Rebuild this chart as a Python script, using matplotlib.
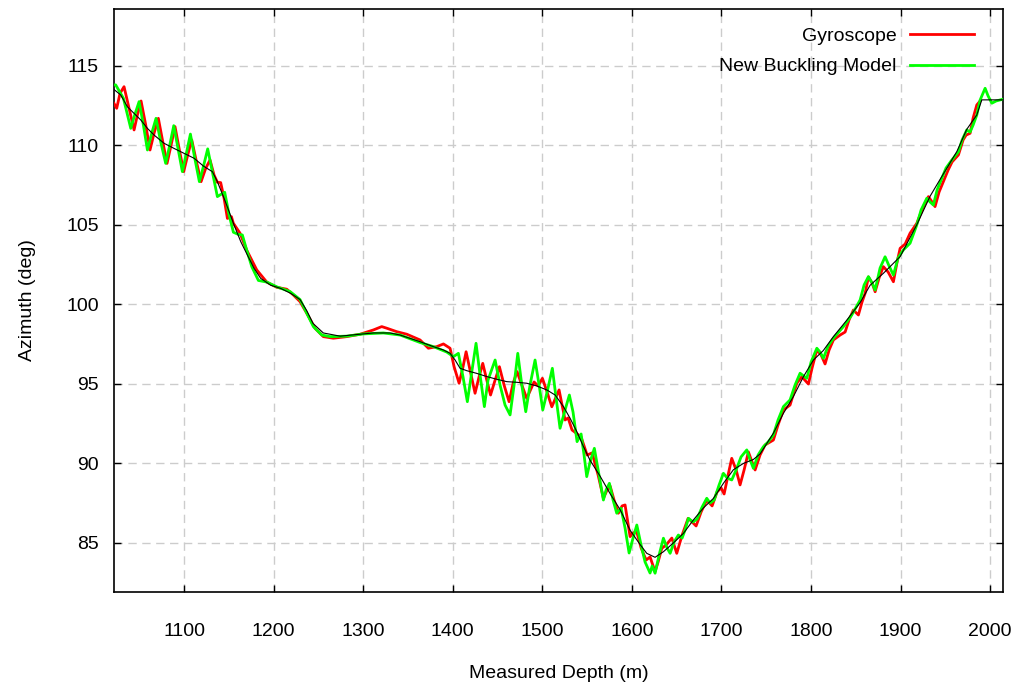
import matplotlib
matplotlib.use("Agg")
import matplotlib.pyplot as plt

plt.rcParams['font.family'] = ['Liberation Sans', 'DejaVu Sans']

# ---- data (depth in m, azimuth in deg) ----
gyro_depth = [
    1021.8, 1024.8, 1028.5, 1033.0, 1038.6, 1044.2, 1047.9, 1052.0, 1057.2, 1062.0,
    1066.5, 1071.3, 1076.2, 1081.0, 1085.5, 1089.9, 1094.8, 1099.6, 1104.1, 1108.6,
    1113.8, 1119.0, 1124.2, 1129.0, 1133.5, 1137.2, 1140.9, 1144.7, 1148.4, 1152.9,
    1155.0, 1162.5, 1170.0, 1181.2, 1192.3, 1203.5, 1214.7, 1222.0, 1229.5, 1237.0,
    1246.3, 1255.5, 1266.7, 1281.7, 1296.5, 1311.4, 1320.7, 1326.3, 1337.5, 1348.7,
    1363.5, 1372.8, 1382.1, 1389.6, 1397.0, 1401.5, 1407.1, 1411.5, 1414.9, 1419.3,
    1424.9, 1429.4, 1433.5, 1438.0, 1442.2, 1447.3, 1452.1, 1457.3, 1462.9, 1467.4,
    1471.8, 1477.1, 1482.6, 1490.8, 1495.3, 1500.1, 1505.3, 1510.6, 1514.8, 1518.7,
    1522.1, 1525.4, 1528.8, 1533.2, 1537.7, 1543.3, 1550.0, 1555.6, 1562.3, 1568.2,
    1572.3, 1575.7, 1580.1, 1584.9, 1589.1, 1592.4, 1598.0, 1601.3, 1605.5, 1610.3,
    1615.9, 1620.3, 1625.9, 1629.3, 1633.4, 1638.2, 1644.6, 1650.1, 1656.1, 1662.8,
    1667.2, 1671.7, 1677.3, 1683.6, 1689.6, 1695.1, 1699.6, 1703.0, 1707.4, 1711.5,
    1716.4, 1720.8, 1725.3, 1730.1, 1734.2, 1737.6, 1743.1, 1748.7, 1758.0, 1763.2,
    1769.2, 1776.6, 1784.1, 1789.7, 1797.1, 1801.2, 1806.5, 1811.3, 1815.7, 1820.2,
    1825.0, 1832.5, 1838.1, 1842.5, 1847.3, 1852.9, 1857.0, 1860.4, 1864.1, 1868.2,
    1871.6, 1876.0, 1880.8, 1886.1, 1892.0, 1896.1, 1899.5, 1905.1, 1910.6, 1918.1,
    1924.0, 1931.1, 1935.2, 1938.5, 1943.0, 1947.8, 1953.1, 1957.5, 1964.6, 1969.8,
    1973.2, 1977.6, 1981.0, 1985.1, 1988.8,
]
gyro_az = [
    112.63, 112.32, 113.26, 113.68, 112.32, 110.96, 111.90, 112.78, 111.27, 109.70,
    110.75, 111.69, 110.23, 108.86, 110.00, 111.17, 109.70, 108.34, 109.39, 110.33,
    108.97, 107.71, 108.55, 109.07, 108.13, 107.67, 107.65, 106.66, 105.40, 105.51,
    105.10, 104.47, 103.40, 102.16, 101.40, 101.07, 100.95, 100.59, 100.17, 99.44,
    98.49, 97.97, 97.87, 97.97, 98.12, 98.39, 98.60, 98.50, 98.28, 98.12,
    97.76, 97.24, 97.34, 97.51, 97.24, 96.08, 95.04, 96.08, 97.02, 95.87,
    94.41, 95.45, 96.29, 95.24, 94.30, 95.24, 96.08, 94.93, 93.88, 95.04,
    95.77, 94.93, 94.09, 95.12, 94.87, 95.35, 94.49, 93.56, 94.11, 94.62,
    93.67, 92.73, 92.86, 92.10, 91.91, 91.66, 90.53, 90.66, 89.27, 87.81,
    88.33, 88.58, 87.70, 86.87, 87.33, 87.39, 85.40, 85.63, 85.69, 84.69,
    83.93, 84.12, 83.20, 83.81, 84.67, 84.87, 85.31, 84.35, 85.50, 86.55,
    86.32, 86.07, 86.95, 87.70, 87.33, 88.21, 88.46, 88.08, 89.27, 90.32,
    89.59, 88.65, 89.59, 90.72, 90.09, 89.59, 90.53, 91.16, 91.47, 92.42,
    93.36, 93.67, 95.04, 95.45, 94.99, 96.00, 97.13, 96.82, 96.25, 97.13,
    97.76, 98.07, 98.26, 99.02, 99.64, 99.33, 100.15, 100.69, 101.72, 101.34,
    100.79, 101.66, 102.37, 102.03, 101.42, 102.66, 103.52, 103.79, 104.47, 105.09,
    105.93, 106.77, 106.43, 106.14, 107.06, 107.71, 108.44, 108.95, 109.39, 110.33,
    110.64, 110.75, 111.71, 112.53, 112.78,
]

model_depth = [
    1021.8, 1023.7, 1032.3, 1040.5, 1044.9, 1049.8, 1054.6, 1059.1, 1063.9, 1068.7,
    1074.0, 1079.5, 1084.0, 1088.5, 1093.3, 1098.1, 1102.6, 1107.1, 1111.9, 1117.1,
    1121.6, 1126.4, 1131.6, 1137.2, 1140.9, 1145.4, 1150.3, 1155.1, 1160.3, 1165.1,
    1170.0, 1175.6, 1183.0, 1192.3, 1203.5, 1218.4, 1229.5, 1237.0, 1244.4, 1253.8,
    1263.0, 1281.7, 1300.2, 1322.5, 1341.2, 1363.5, 1378.4, 1393.3, 1400.7, 1406.3,
    1411.5, 1416.3, 1421.2, 1426.0, 1430.5, 1435.3, 1439.4, 1447.3, 1452.8, 1458.4,
    1464.0, 1468.5, 1472.6, 1477.1, 1481.5, 1486.3, 1491.9, 1496.4, 1500.5, 1505.9,
    1511.2, 1515.4, 1519.8, 1525.4, 1530.2, 1534.3, 1538.8, 1543.3, 1546.6, 1549.6,
    1553.3, 1558.1, 1562.3, 1568.2, 1571.2, 1574.9, 1579.0, 1583.1, 1585.7, 1587.9,
    1592.4, 1596.9, 1601.3, 1605.5, 1610.3, 1614.7, 1620.3, 1622.6, 1625.9, 1630.4,
    1635.2, 1639.3, 1642.7, 1647.1, 1651.9, 1656.1, 1659.4, 1663.1, 1668.3, 1672.8,
    1678.4, 1683.6, 1687.3, 1691.8, 1697.4, 1702.2, 1706.3, 1711.5, 1716.4, 1721.9,
    1728.3, 1732.0, 1735.7, 1740.9, 1746.8, 1752.1, 1758.0, 1763.2, 1769.2, 1776.6,
    1782.2, 1787.8, 1795.3, 1800.1, 1806.5, 1810.1, 1813.8, 1819.1, 1825.0, 1836.2,
    1845.5, 1854.8, 1859.3, 1864.1, 1868.2, 1871.6, 1877.1, 1882.7, 1887.2, 1892.0,
    1897.2, 1903.1, 1910.6, 1918.1, 1922.9, 1929.3, 1933.0, 1936.6, 1940.8, 1946.0,
    1950.8, 1957.2, 1964.6, 1968.7, 1973.9, 1977.6, 1981.0, 1985.1, 1988.8, 1994.4,
    1997.7, 2001.9, 2006.7, 2014.1,
]
model_az = [
    113.79, 113.79, 112.95, 111.06, 111.90, 112.74, 111.27, 109.70, 110.75, 111.69,
    110.20, 108.86, 110.00, 111.23, 109.80, 108.34, 109.50, 110.70, 109.20, 107.71,
    108.66, 109.77, 108.34, 106.77, 106.90, 107.04, 105.62, 104.53, 104.40, 104.36,
    103.40, 102.37, 101.50, 101.40, 101.10, 100.80, 100.30, 99.44, 98.60, 98.07,
    97.97, 98.00, 98.14, 98.20, 98.07, 97.60, 97.34, 97.00, 96.71, 96.92,
    95.43, 93.88, 95.75, 97.55, 95.56, 93.57, 95.24, 96.50, 94.93, 93.67,
    93.05, 94.93, 96.92, 94.93, 93.25, 94.93, 96.50, 94.93, 93.36, 94.62,
    95.98, 94.11, 92.21, 93.36, 94.30, 93.23, 91.37, 91.85, 90.53, 89.17,
    90.09, 90.95, 89.59, 87.70, 88.33, 88.75, 87.70, 86.87, 87.07, 87.18,
    85.94, 84.37, 85.31, 86.13, 84.87, 83.81, 83.11, 83.55, 83.10, 84.25,
    85.30, 84.69, 84.35, 85.06, 85.50, 85.31, 85.82, 86.55, 86.32, 86.51,
    87.26, 87.81, 87.51, 87.70, 88.65, 89.38, 89.09, 88.96, 89.59, 90.41,
    90.85, 90.22, 89.69, 90.53, 91.05, 91.35, 91.79, 92.73, 93.57, 93.99,
    94.93, 95.67, 95.35, 96.38, 97.24, 97.00, 96.61, 97.38, 97.87, 98.60,
    99.33, 100.27, 101.22, 101.74, 101.34, 100.90, 102.28, 102.99, 102.41, 101.84,
    102.91, 103.42, 103.84, 104.99, 105.93, 106.67, 106.43, 106.24, 107.19, 107.92,
    108.57, 109.07, 109.59, 110.33, 110.96, 110.83, 111.27, 111.90, 112.84, 113.58,
    113.10, 112.64, 112.78, 112.89,
]

trend_depth = [
    1021.8, 1029.3, 1036.7, 1044.2, 1051.6, 1059.1, 1066.5, 1077.7, 1088.8, 1100.0,
    1111.2, 1122.3, 1131.6, 1137.2, 1144.7, 1150.3, 1155.8, 1163.3, 1170.7, 1178.2,
    1185.6, 1196.8, 1207.9, 1219.1, 1229.5, 1237.0, 1244.0, 1255.5, 1274.2, 1292.8,
    1311.4, 1330.0, 1341.2, 1352.3, 1363.5, 1378.4, 1389.6, 1397.0, 1402.6, 1408.2,
    1415.6, 1426.8, 1438.0, 1449.1, 1460.3, 1471.5, 1482.6, 1493.8, 1505.0, 1514.3,
    1523.6, 1531.0, 1538.5, 1545.9, 1553.3, 1564.5, 1575.7, 1586.8, 1598.0, 1609.2,
    1616.6, 1625.9, 1635.2, 1646.3, 1657.5, 1668.7, 1679.8, 1691.0, 1702.2, 1713.3,
    1724.5, 1735.7, 1743.2, 1758.0, 1769.2, 1780.3, 1791.5, 1802.7, 1813.8, 1825.0,
    1839.9, 1854.8, 1866.0, 1880.8, 1899.5, 1918.1, 1933.0, 1947.8, 1962.8, 1973.9,
    1985.1, 1990.7, 2014.2,
]
trend_az = [
    113.50, 113.16, 112.42, 112.00, 111.59, 111.06, 110.64, 110.12, 109.80, 109.49,
    109.18, 108.66, 108.34, 107.71, 106.66, 105.83, 104.99, 103.94, 103.10, 102.26,
    101.63, 101.20, 101.00, 100.69, 100.30, 99.60, 98.80, 98.20, 98.00, 98.10,
    98.20, 98.20, 98.07, 97.86, 97.65, 97.34, 97.13, 96.92, 96.50, 95.98,
    95.83, 95.66, 95.46, 95.29, 95.14, 95.10, 95.04, 94.87, 94.62, 94.30,
    93.57, 92.84, 92.00, 91.06, 90.20, 89.20, 88.10, 87.10, 85.80, 84.90,
    84.35, 84.10, 84.45, 85.00, 85.60, 86.45, 87.20, 87.80, 88.75, 89.60,
    90.00, 90.25, 90.60, 91.90, 93.15, 94.20, 95.45, 96.50, 97.10, 97.97,
    99.00, 100.10, 101.20, 101.95, 103.00, 105.00, 106.80, 108.20, 109.60, 111.00,
    111.90, 112.85, 112.85,
]

x_ticks = [1100, 1200, 1300, 1400, 1500, 1600, 1700, 1800, 1900, 2000]
y_ticks = [85, 90, 95, 100, 105, 110, 115]

# ---- figure ----
fig = plt.figure(figsize=(10.18, 6.89), dpi=100)
ax = fig.add_axes([0.112, 0.1408, 0.8733, 0.8461])

ax.plot(gyro_depth, gyro_az, color='#ff0000', lw=2.0, label='Gyroscope',
        solid_joinstyle='round', zorder=3)
ax.plot(model_depth, model_az, color='#00ff00', lw=2.0, label='New Buckling Model',
        solid_joinstyle='round', zorder=4)
ax.plot(trend_depth, trend_az, color='black', lw=0.8, zorder=5)

ax.set_xlim(1021.8, 2014.4)
ax.set_ylim(81.92, 118.56)
ax.set_xticks(x_ticks)
ax.set_yticks(y_ticks)

ax.grid(True, color='#cccccc', linestyle=(0, (6, 4)), linewidth=1.0)
ax.set_axisbelow(True)
ax.tick_params(direction='in', length=5, width=1, top=True, right=True,
               labelsize=14, colors='black')
ax.tick_params(axis='x', pad=22)
ax.tick_params(axis='y', pad=11)
for sp in ax.spines.values():
    sp.set_linewidth(1.2)

ax.set_xlabel('Measured Depth (m)', fontsize=14)
ax.set_ylabel('Azimuth (deg)', fontsize=14)
ax.xaxis.set_label_coords(0.5, -0.125)
ax.yaxis.set_label_coords(-0.088, 0.5)

ax.legend(loc='upper right', bbox_to_anchor=(0.9787, 0.985), frameon=False,
          markerfirst=False, fontsize=14, handlelength=3.3, handletextpad=0.7,
          labelspacing=0.65, borderpad=0)

fig.savefig('out.png', dpi=100)
